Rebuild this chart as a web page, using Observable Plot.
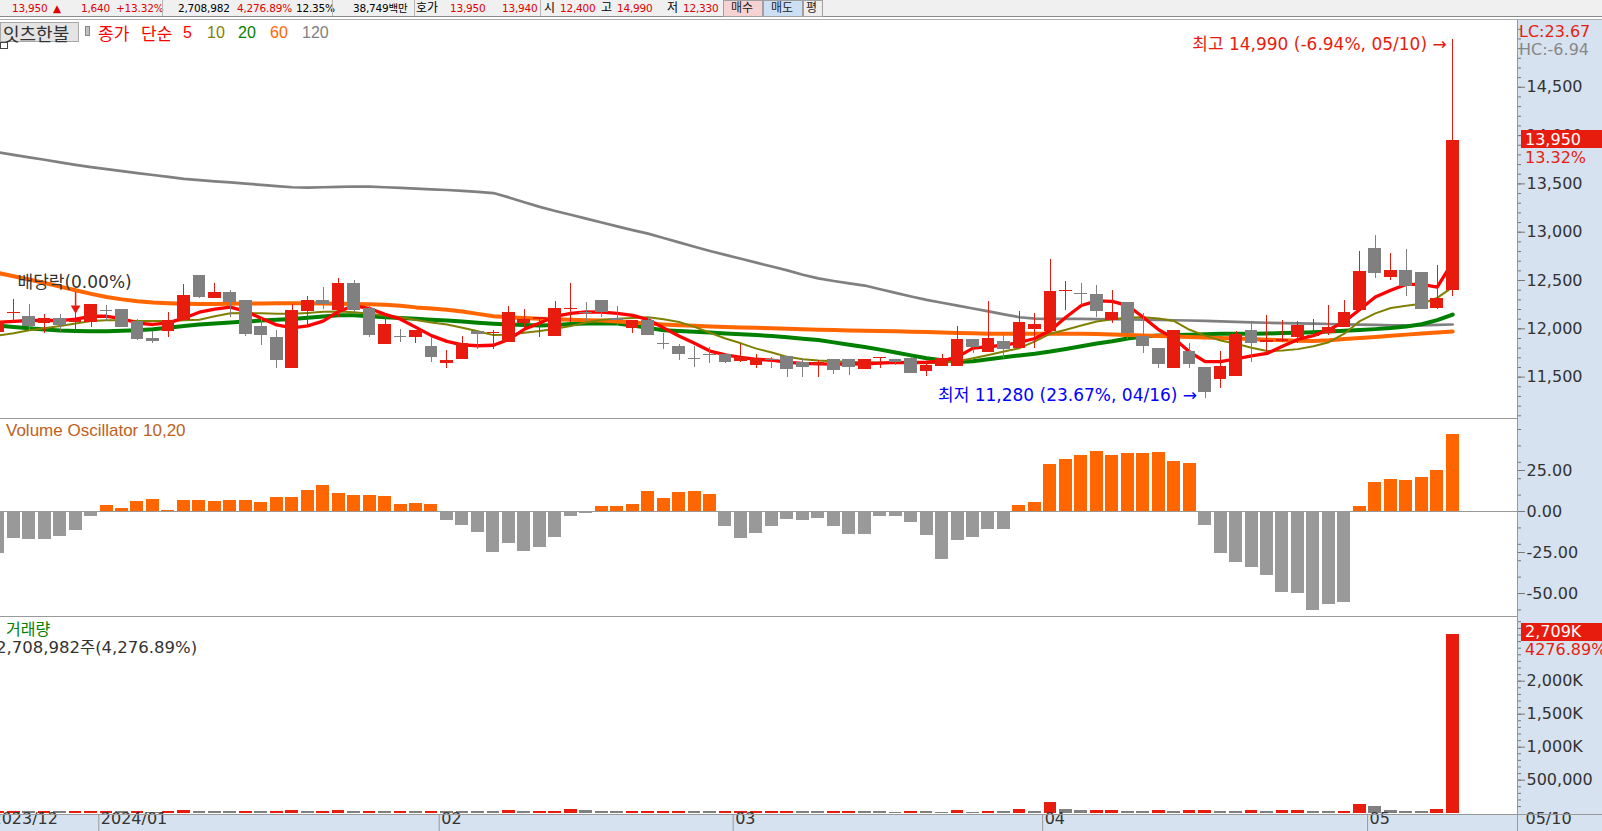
<!DOCTYPE html>
<html><head><meta charset="utf-8">
<script src="https://cdn.jsdelivr.net/npm/d3@7"></script>
<script src="https://cdn.jsdelivr.net/npm/@observablehq/plot@0.6"></script>
<style>
html,body{margin:0;padding:0;}
body{background:#fff;width:1602px;height:831px;overflow:hidden;position:relative;font-family:"DejaVu Sans","Noto Sans CJK KR",sans-serif;}
.t{position:absolute;white-space:nowrap;}
.blk{position:absolute;}
</style></head><body>
<script>
// ---------- DATA ----------
const monthDays = [7, 22, 19, 20, 21, 6];           // visible trading days: 2023/12 (tail), 01, 02, 03, 04, 05
const monthLabels = ["2024/01", "02", "03", "04", "05"];
const firstLabel = "2023/12", lastLabel = "05/10";

const opens = [11960,12165,12127,12051,12110,12065,12061,12190,12199,12079,
11899,11975,12086,12551,12317,12375,12293,12023,11910,11592,
12182,12293,12189,12468,12210,11837,11921,11913,11816,11644,
11678,11972,11955,11861,12051,12100,11923,12203,12173,12293,
12110,12006,12086,11845,11816,11690,11738,11734,11665,11620,
11679,11713,11651,11620,11678,11678,11575,11689,11682,11689,
11561,11613,11613,11892,11751,11872,11792,11989,11972,12395,
12362,12355,12086,12272,11920,11799,11592,11765,11603,11472,
11510,11983,11862,11872,11913,11920,11948,12017,12190,12828,
12528,12603,12579,12207,12400];
const highs = [12100,12299,12251,12144,12148,12172,12251,12241,12205,12100,
11972,12165,12458,12551,12472,12396,12293,12103,11982,12251,
12334,12430,12520,12500,12258,12155,11989,11982,11913,11775,
11920,11972,11982,12230,12199,12120,12282,12468,12272,12293,
12230,12086,12120,11954,11837,11816,11810,11734,11837,11734,
11706,11713,11689,11672,11678,11678,11678,11706,11682,11706,
11654,11734,12023,11892,12282,11927,12179,12158,12717,12489,
12472,12448,12396,12272,12155,11799,11982,11844,11603,11765,
11976,12069,12138,12086,12076,12093,12241,12293,12800,12966,
12776,12817,12579,12655,14990];
const lows = [11940,12068,11982,11947,11975,11975,12010,12079,12010,11878,
11851,11906,12086,12310,12310,12113,11923,11827,11592,11592,
12034,12199,12120,12172,11906,11837,11861,11851,11654,11592,
11678,11782,11789,11861,11999,11913,11923,12068,12079,12120,
12034,11954,11930,11785,11672,11603,11644,11644,11654,11592,
11592,11499,11499,11499,11527,11516,11575,11585,11620,11541,
11506,11613,11613,11740,11751,11689,11792,11792,11972,12189,
12241,12120,12051,11885,11741,11585,11592,11592,11280,11386,
11510,11655,11741,11862,11852,11913,11931,12017,12190,12517,
12500,12334,12196,12196,12330];
const closes = [12080,12172,12034,12103,12044,12090,12251,12189,12023,11903,
11875,12086,12344,12337,12375,12286,11954,11941,11685,12189,
12293,12258,12468,12199,11941,12044,11920,11982,11716,11672,
11844,11948,11958,12168,12092,12113,12206,12206,12172,12179,
12093,12086,11941,11844,11740,11689,11737,11665,11699,11689,
11678,11592,11610,11651,11582,11613,11678,11706,11661,11551,
11620,11696,11892,11820,11899,11792,12068,12044,12386,12396,
12361,12189,12168,11965,11827,11644,11982,11644,11354,11610,
11941,11862,11879,11893,12034,11930,12017,12165,12597,12586,
12603,12448,12207,12310,13950];

const ma5 = [12068,12078,12086,12088,12086,12100,12130,12130,12105,12060,
12045,12062,12110,12172,12205,12224,12180,12110,12040,12010,
12030,12080,12180,12240,12210,12150,12100,12015,11930,11870,
11835,11825,11830,11890,11995,12060,12130,12160,12175,12172,
12160,12140,12095,12010,11925,11850,11770,11730,11705,11685,
11675,11652,11642,11637,11635,11636,11637,11645,11653,11650,
11654,11665,11710,11800,11815,11830,11860,11900,11982,12120,
12241,12290,12285,12241,12120,11990,11900,11760,11660,11660,
11690,11720,11745,11820,11890,11930,11990,12075,12200,12330,
12400,12460,12460,12431,12690];
const ma10 = [11930,11955,11985,12005,12030,12055,12080,12090,12088,12082,
12080,12082,12088,12095,12130,12162,12165,12160,12155,12155,
12165,12178,12180,12172,12155,12138,12120,12092,12065,12045,
12012,11975,11935,11940,11960,11978,12000,12030,12065,12095,
12105,12112,12120,12100,12070,12020,11960,11900,11850,11795,
11755,11710,11685,11672,11665,11658,11654,11651,11648,11646,
11644,11650,11665,11695,11730,11765,11800,11870,11950,11990,
12035,12075,12100,12118,12120,12108,12080,11990,11930,11880,
11845,11805,11770,11775,11790,11820,11862,11950,12080,12160,
12215,12240,12260,12320,12431];
const ma20 = [12034,12020,12005,11992,11983,11978,11975,11976,11980,11986,
11995,12012,12030,12044,12055,12065,12075,12085,12094,12102,
12115,12128,12140,12140,12130,12120,12112,12104,12095,12086,
12075,12064,12053,12045,12040,12035,12040,12050,12055,12058,
12055,12035,12010,11985,11977,11970,11962,11952,11945,11935,
11925,11912,11898,11884,11860,11835,11812,11785,11755,11725,
11695,11675,11658,11665,11685,11705,11725,11742,11765,11792,
11820,11848,11872,11900,11920,11930,11935,11940,11944,11948,
11948,11948,11952,11956,11960,11965,11972,11980,11988,11997,
12008,12025,12048,12090,12148];
const ma60 = [12578,12545,12510,12475,12437,12400,12362,12330,12305,12285,
12272,12265,12260,12258,12258,12259,12261,12263,12264,12265,
12264,12262,12260,12258,12254,12248,12240,12222,12210,12197,
12180,12155,12130,12120,12112,12105,12100,12095,12089,12085,
12075,12065,12055,12045,12038,12031,12024,12018,12014,12010,
12006,12001,11995,11990,11987,11984,11981,11978,11975,11971,
11967,11962,11958,11954,11950,11948,11948,11948,11948,11948,
11948,11947,11942,11937,11932,11926,11920,11915,11910,11906,
11900,11894,11888,11882,11876,11873,11882,11895,11905,11915,
11928,11940,11952,11962,11972];
const ma120 = [13828,13800,13775,13750,13722,13697,13673,13652,13632,13612,
13592,13572,13552,13540,13527,13515,13502,13490,13477,13465,
13462,13465,13470,13473,13472,13465,13458,13451,13444,13437,
13428,13418,13405,13360,13310,13262,13220,13180,13140,13100,
13060,13022,12985,12940,12895,12850,12806,12765,12725,12685,
12645,12605,12560,12522,12495,12470,12448,12410,12372,12335,
12300,12270,12240,12210,12180,12150,12120,12105,12103,12103,
12103,12101,12099,12097,12095,12092,12089,12086,12082,12078,
12071,12066,12063,12060,12057,12053,12050,12046,12043,12040,
12036,12035,12036,12040,12045];

const volOsc = [-25.4,-16.3,-17.1,-17.1,-15.2,-11.4,-2.8,3.7,1.8,6.3,
7.3,0.8,6.7,6.7,6.1,6.7,6.7,5.5,8.5,8.5,
12.8,15.9,11.0,9.8,9.8,9.1,4.3,4.9,4.3,-5.3,
-8.3,-12.6,-24.8,-19.3,-24.2,-21.7,-15.6,-2.8,-1.0,3.0,
3.0,4.3,12.2,7.9,11.6,12.2,10.4,-8.9,-16.3,-13.2,
-8.9,-4.7,-5.2,-4.5,-8.9,-13.8,-13.8,-2.8,-2.8,-6.5,
-14.6,-29.1,-17.5,-15.6,-10.8,-10.8,3.7,5.7,28.7,31.7,
34.1,36.6,34.1,35.4,35.4,36.0,30.5,29.3,-8.3,-25.4,
-30.9,-33.9,-38.8,-49.2,-49.8,-60.4,-56.5,-55.3,3.0,17.7,
19.5,18.9,20.7,25.0,47.0];

// volume in thousands of shares
const volumes = [25,25,25,25,25,25,25,25,25,25,
10,25,40,25,25,25,25,25,25,40,
25,25,40,25,25,25,25,25,25,25,
25,25,25,40,25,25,25,56,40,25,
25,25,25,25,25,25,25,25,25,25,
25,25,25,25,25,25,25,25,10,25,
25,10,40,10,25,25,55,25,167,50,
40,40,40,25,25,40,25,40,40,25,
25,40,25,40,40,25,25,25,131,101,
40,25,25,63,2709];
const volUp = [1,1,0,1,0,1,1,1,0,1,
0,1,1,0,0,0,1,0,1,1,
0,1,1,0,1,0,1,0,1,0,
0,0,0,1,0,1,1,1,0,0,
0,1,1,1,1,0,0,1,1,1,
1,1,0,0,1,1,0,0,0,1,
0,0,1,0,1,0,1,0,1,0,
0,1,1,0,0,1,0,1,1,0,
0,1,0,1,1,0,0,1,1,0,
0,0,0,1,1];

const priceTicks = [11500,12000,12500,13000,13500,14000,14500];
const oscTicks = [-50,-25,0,25];
const volTicks = [500,1000,1500,2000];

const topBar = [
  ["13,950",12,"r"],["▲",53,"r"],["1,640",81,"r"],["+13.32%",116,"r"],
  ["2,708,982",178,"k"],["4,276.89%",237,"r"],["12.35%",296,"k"],
  ["38,749백만",353,"k"],["호가",416,"k"],["13,950",450,"r"],["13,940",502,"r"],
  ["시",544,"k"],["12,400",560,"r"],["고",601,"k"],["14,990",617,"r"],["저",667,"k"],["12,330",683,"r"]
];
const highLabel = "최고 14,990 (-6.94%, 05/10) →";
const lowLabel = "최저 11,280 (23.67%, 04/16) →";
const exDivLabel = "배당락(0.00%)";
const lastClose = 13950, lastChg = "13.32%", lastVol = 2709, lastVolTxt = "2,709K", lastVolPct = "4276.89%";

// ---------- LAYOUT / STYLE ----------
const RED = "#e81c0e", GRAY = "#808080", AXBG = "#d6e2ef", LINE = "#999";
const FONT = '"DejaVu Sans","Noto Sans CJK KR",sans-serif';
const W = 1602, AXW = 85, PW = W - AXW;
const idx = d3.range(closes.length);
const up = i => closes[i] >= opens[i];
const HALF = 0.41;
let acc = 0;
const monthEdges = monthDays.slice(0, -1).map(d => (acc += d) - 0.5);

function box(x, y, w, h, css) {
  const d = document.createElement("div");
  d.className = "blk";
  d.style.cssText += `left:${x}px;top:${y}px;width:${w}px;height:${h}px;${css||""}`;
  document.body.appendChild(d); return d;
}
function txt(s, x, yc, size, color, family, extra) {
  const d = document.createElement("div");
  d.className = "t"; d.textContent = s;
  d.style.cssText += `left:${x}px;top:${yc - size/2}px;font-size:${size}px;line-height:${size}px;color:${color};font-family:${family||FONT};${extra||""}`;
  document.body.appendChild(d); return d;
}

// backgrounds
box(0, 0, W, 16, "background:#f0f0f0;");
box(0, 16, W, 1, "background:#8a8a8a;");
box(0, 19, W, 1, "background:#b0b0b0;");
box(PW, 20, AXW, 811, `background:${AXBG};`);
box(0, 814, W, 17, `background:${AXBG};`);

function place(svg, top) {
  svg.style.position = "absolute"; svg.style.left = "0px"; svg.style.top = top + "px";
  document.body.appendChild(svg);
}
const baseStyle = {background: "transparent", overflow: "visible", fontFamily: FONT, fontSize: "16px", color: "#333"};
const xs = () => ({type: "linear", domain: [0.147, 98.19], axis: null});
const minorAxis = ticks => Plot.axisY({anchor: "right", ticks, tickSize: 3, tickFormat: () => "", stroke: "#777", label: null});
const majorAxis = (ticks, fmt) => Plot.axisY({anchor: "right", ticks, tickSize: 7, tickPadding: 2, tickFormat: fmt, stroke: "#777", fill: "#333", fontSize: 16, textAnchor: "start", label: null});

// ---------- PRICE PANEL ----------
const price = Plot.plot({
  width: W, height: 398, marginLeft: 0, marginRight: AXW, marginTop: 0, marginBottom: 0,
  style: baseStyle, x: xs(), y: {domain: [11072, 15191], label: null}, color: {type: "identity"},
  marks: [
    minorAxis(d3.range(11100, 15200, 100)),
    majorAxis(priceTicks, d3.format(",")),
    Plot.line(ma120, {x: (d, i) => i, y: d => d, stroke: "#808080", strokeWidth: 2.7}),
    Plot.line(ma20, {x: (d, i) => i, y: d => d, stroke: "#008000", strokeWidth: 4}),
    Plot.line(ma60, {x: (d, i) => i, y: d => d, stroke: "#ff6600", strokeWidth: 4}),
    Plot.line(ma10, {x: (d, i) => i, y: d => d, stroke: "#808000", strokeWidth: 2}),
    Plot.line(ma5, {x: (d, i) => i, y: d => d, stroke: "#ff0000", strokeWidth: 3.3}),
    Plot.ruleX(idx, {x: i => i, y1: i => lows[i], y2: i => highs[i], stroke: i => up(i) ? RED : GRAY, strokeWidth: 1, shapeRendering: "crispEdges"}),
    Plot.rect(idx, {x1: i => i - HALF, x2: i => i + HALF, y1: i => opens[i], y2: i => closes[i], fill: i => up(i) ? RED : GRAY, shapeRendering: "crispEdges"}),
    Plot.ruleY(idx, {x1: i => i - HALF, x2: i => i + HALF, y: i => closes[i], stroke: i => up(i) ? RED : GRAY, strokeWidth: 1, shapeRendering: "crispEdges"}),
    // ex-dividend marker
    Plot.ruleX([5], {x: d => d, y1: d => highs[d] + 60, y2: d => highs[d] + 205, stroke: RED, strokeWidth: 1.5}),
    Plot.dot([5], {x: d => d, y: d => highs[d], symbol: "triangle", rotate: 180, r: 3.6, fill: RED, stroke: "none", dy: -4}),
    Plot.text([exDivLabel], {frameAnchor: "top-left", text: d => d, dx: 17, dy: 255.5, textAnchor: "start", fill: "#333", fontSize: 17}),
    Plot.text([94], {x: d => d, y: d => highs[d], text: () => highLabel, textAnchor: "end", dx: -6, dy: 5, fill: RED, fontSize: 17}),
    Plot.text([78], {x: d => d, y: d => lows[d], text: () => lowLabel, textAnchor: "end", dx: -8, dy: -3, fill: "#0000ff", fontSize: 17})
  ]
});
place(price, 20);

// ---------- VOLUME OSCILLATOR ----------
const osc = Plot.plot({
  width: W, height: 198, marginLeft: 0, marginRight: AXW, marginTop: 0, marginBottom: 0,
  style: baseStyle, x: xs(), y: {domain: [-64, 56.7], label: null}, color: {type: "identity"},
  marks: [
    minorAxis([-60, -40, -30, -20, -10, 10, 20, 30, 40, 50]),
    majorAxis(oscTicks, d => d.toFixed(2)),
    Plot.rect(idx, {x1: i => i - 0.42, x2: i => i + 0.42, y1: () => 0, y2: i => volOsc[i], fill: i => volOsc[i] >= 0 ? "#ff6600" : "#999999", shapeRendering: "crispEdges"}),
    Plot.ruleY([0], {stroke: "#999", strokeWidth: 1})
  ]
});
place(osc, 418);

// ---------- VOLUME ----------
const vol = Plot.plot({
  width: W, height: 215, marginLeft: 0, marginRight: AXW, marginTop: 0, marginBottom: 17,
  style: baseStyle, x: xs(), y: {domain: [-20, 2980], label: null}, color: {type: "identity"},
  marks: [
    minorAxis(d3.range(100, 3000, 100)),
    majorAxis(volTicks, d => d < 1000 ? d3.format(",")(d * 1000) : d3.format(",")(d) + "K"),
    Plot.rect(idx, {x1: i => i - 0.41, x2: i => i + 0.41, y1: () => 0, y2: i => volumes[i], fill: i => volUp[i] ? RED : GRAY, shapeRendering: "crispEdges"}),
    Plot.ruleX(monthEdges, {x: d => d, insetTop: 198, insetBottom: -17, stroke: "#999"}),
    Plot.text(monthLabels, {x: (d, i) => monthEdges[i], frameAnchor: "bottom", text: d => d, dx: 2, dy: 9, textAnchor: "start", fill: "#333", fontSize: 16}),
    Plot.text([firstLabel], {frameAnchor: "bottom-left", text: d => d, dx: -9, dy: 9, textAnchor: "start", fill: "#333", fontSize: 16}),
    Plot.text([lastLabel], {frameAnchor: "bottom-right", text: d => d, dx: 8, dy: 9, textAnchor: "start", fill: "#333", fontSize: 16})
  ]
});
place(vol, 616);

// panel frame lines
box(0, 418, PW, 1, `background:${LINE};`);
box(0, 616, PW, 1, `background:${LINE};`);
box(0, 814, W, 1, `background:${LINE};`);
box(PW, 20, 1, 811, `background:${LINE};`);

// ---------- TOP BAR ----------
for (const [s, x, c] of topBar) {
  const kor = /[가-힣]/.test(s) && !/\d/.test(s);
  txt(s, x, 8, kor ? 12 : 10.5, c === "r" ? "#e00000" : "#000", FONT, kor ? "" : "letter-spacing:-0.2px;");
}
[162, 332, 414, 540].forEach(x => box(x, 0, 1, 16, "background:#b8b8b8;"));
box(723, 0, 38, 15, "background:#f6d2d2;border:1px solid #a0a0a0;");
box(763, 0, 38, 15, "background:#cddff3;border:1px solid #a0a0a0;");
box(803, 0, 18, 15, "background:#eeeeee;border:1px solid #a0a0a0;");
txt("매수", 731, 8, 12, "#222"); txt("매도", 771, 8, 12, "#222"); txt("평", 806, 8, 12, "#222");

// ---------- LEGEND ROW ----------
box(0, 22, 79, 20, "background:#e4e4e4;border:1px solid #a8a8a8;box-sizing:border-box;");
txt("잇츠한불", 3, 32.5, 18, "#333", '"Noto Sans CJK KR",sans-serif');
box(85, 26, 5, 10, "background:#c0c0c0;border:1px solid #888;box-sizing:border-box;");
box(0, 42, 8, 7, "border:1px solid #444;box-sizing:border-box;background:#fff;");
txt("종가", 98, 32.5, 17, "#ff0000", '"Noto Sans CJK KR",sans-serif');
txt("단순", 141, 32.5, 17, "#ff0000", '"Noto Sans CJK KR",sans-serif');
txt("5", 183, 32.5, 16, "#ff0000", '"Liberation Sans",sans-serif');
txt("10", 207, 32.5, 16, "#808000", '"Liberation Sans",sans-serif');
txt("20", 238, 32.5, 16, "#008000", '"Liberation Sans",sans-serif');
txt("60", 270, 32.5, 16, "#ff6600", '"Liberation Sans",sans-serif');
txt("120", 302, 32.5, 16, "#808080", '"Liberation Sans",sans-serif');

// ---------- PANEL TITLES ----------
txt("Volume Oscillator 10,20", 6, 430.5, 17, "#c0601a", '"Liberation Sans",sans-serif');
txt("거래량", 6, 627.5, 16, "#008000", '"Noto Sans CJK KR",sans-serif');
txt("2,708,982주(4,276.89%)", -4, 648, 16.5, "#333");

// ---------- RIGHT AXIS LABELS ----------
txt("LC:23.67", 1519, 31.5, 16, RED);
txt("HC:-6.94", 1519, 49.5, 16, "#888");
const yc = 20 + price.scale("y").apply(lastClose);
box(1521, yc - 9.5, 81, 18, `background:${RED};`);
txt("13,950", 1525, yc, 16, "#fff");
txt(lastChg, 1525, yc + 18, 16, RED);
const yv = 616 + vol.scale("y").apply(lastVol) - 2;
box(1521, yv - 9, 81, 18, `background:${RED};`);
txt(lastVolTxt, 1525, yv, 16, "#fff");
txt(lastVolPct, 1525, yv + 18, 16, RED);
</script>
</body></html>
